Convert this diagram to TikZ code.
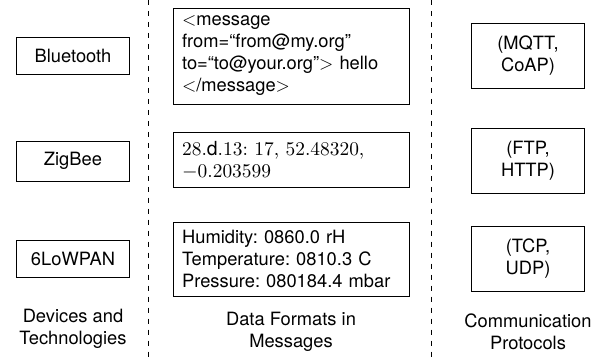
\documentclass[tikz,border=0pt]{standalone}
\usepackage{fontspec}
\setsansfont{TeX Gyre Heros}
\usetikzlibrary{positioning}
\begin{document}
\frenchspacing
\begin{tikzpicture}[x=0.0192cm, y=-0.0192cm, font=\sffamily]

        % Define block styles
        \tikzstyle{device} = [rectangle, draw, minimum width=2.17cm, minimum height=0.72cm]
        \tikzstyle{format} = [rectangle, draw, text width=4.18cm, inner xsep=5pt, align=left]
        \tikzstyle{protocol} = [rectangle, draw, minimum width=2.17cm, minimum height=1.25cm, align=center]
        \tikzstyle{caption} = [align=center]
        \tikzstyle{divider} = [dashed, thin]

        \useasboundingbox (0,0) rectangle (600,362);

        % Devices
        \node (bluetooth) [device] at (73,56) {Bluetooth};
        \node (zigbee) [device, minimum height=0.77cm] at (73,161) {ZigBee};
        \node (lowpan) [device] at (73,259) {6LoWPAN};

        % Data formats
        \node (xml) [format, minimum height=1.84cm] at (291,56)
          {$<$message\\from=``from@my.org''\\to=``to@your.org''$>$ hello\\$<$/message$>$};
        \node (csv) [format, minimum height=1.06cm, font=\rmfamily\fontsize{10.6}{12}\selectfont] at (291,160)
          {28.\textsf{d}.13: 17, 52.48320,\\$-$0.203599};
        \node (sensor) [format, minimum height=1.42cm] at (291,259)
          {Humidity: 0860.0 rH\\Temperature: 0810.3 C\\Pressure: 080184.4 mbar};

        % Protocols
        \node (mqtt) [protocol] at (528,56) {(MQTT,\\CoAP)};
        \node (http) [protocol] at (528,160.5) {(FTP,\\HTTP)};
        \node (tcp) [protocol] at (528,258.5) {(TCP,\\UDP)};

        % Separators
        \coordinate (sepA top) at (148,0);
        \coordinate (sepA bottom) at (148,362);
        \coordinate (sepB top) at (431,0);
        \coordinate (sepB bottom) at (431,362);
        \draw [divider] (sepA top) -- (sepA bottom);
        \draw [divider] (sepB top) -- (sepB bottom);

        % Labels
        \node [caption] at (73,329) {Devices and\\Technologies};
        \node [caption] at (291,332) {Data Formats in\\Messages};
        \node [caption] at (528,332) {Communication\\Protocols};

      \end{tikzpicture}
\end{document}
